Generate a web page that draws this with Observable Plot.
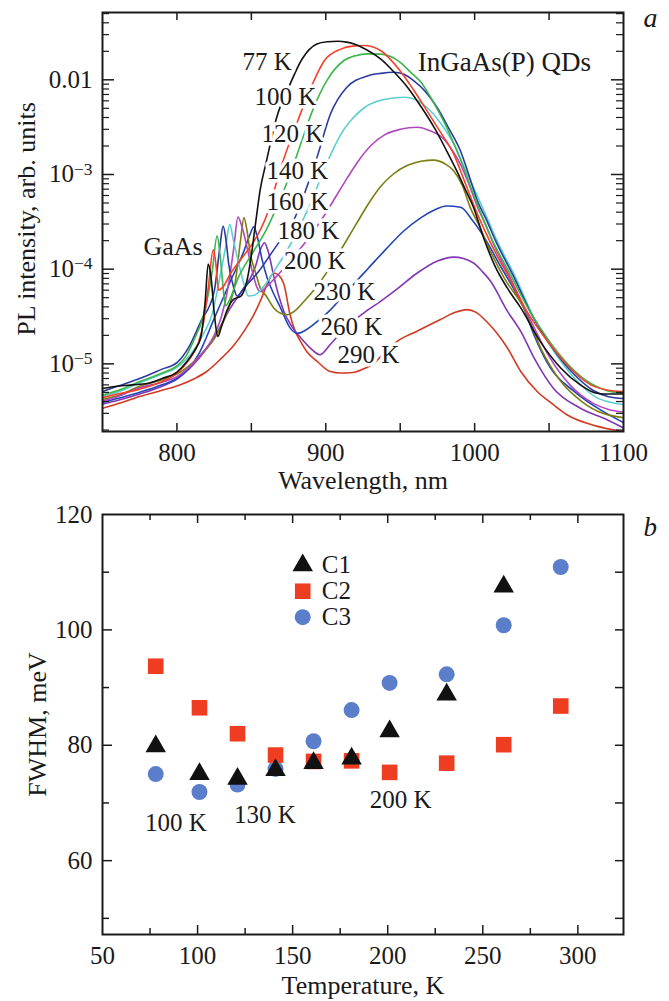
<!DOCTYPE html>
<html>
<head>
<meta charset="utf-8">
<script src="https://cdn.jsdelivr.net/npm/d3@7"></script>
<script src="https://cdn.jsdelivr.net/npm/@observablehq/plot@0.6"></script>
<style>
  body { margin: 0; background: #fff; }
  #chart { width: 669px; }
  #chart svg { display: block; }
</style>
</head>
<body>
<div id="chart"></div>
<script>
// ---------------- Panel a data: PL spectra (wavelength nm, intensity arb. units) ----------------
const temps = ["77 K", "100 K", "120 K", "140 K", "160 K", "180 K", "200 K", "230 K", "260 K", "290 K"];
const curveColors = ["#111111", "#f5402a", "#3db54a", "#2b3a9e", "#5ccfd0", "#b049bd", "#7d7d12", "#2344b5", "#8236b5", "#d23a22"];

const pl77 = [[750,5.5e-6],[760,5.8e-6],[770,6.0e-6],[780,6.2e-6],[790,7.0e-6],[800,8.2e-6],[807,1.07e-5],[812,1.4e-5],[816,1.9e-5],[819,4.6e-5],[821,1.13e-4],[823,8.0e-5],[825,3.5e-5],[827.5,1.95e-5],[830,2.5e-5],[834,3.8e-5],[838,4.8e-5],[843,5.2e-5],[847,7.5e-5],[850,1.4e-4],[853,3.2e-4],[856,7.0e-4],[860,1.35e-3],[867,4.0e-3],[876,9.0e-3],[884,1.65e-2],[894,2.39e-2],[901,2.52e-2],[908,2.55e-2],[914,2.5e-2],[919,2.39e-2],[928,2.05e-2],[937,1.65e-2],[946,1.2e-2],[955,8.3e-3],[964,5.2e-3],[973,3.1e-3],[981,1.8e-3],[988,1.09e-3],[994,6.8e-4],[999,4.6e-4],[1006,2.15e-4],[1014,1.05e-4],[1022,6.3e-5],[1031,3.9e-5],[1044,1.73e-5],[1058,9.0e-6],[1071,6.0e-6],[1082,4.9e-6],[1090,4.8e-6],[1100,4.8e-6]];
const pl100 = [[750,4.4e-6],[760,4.8e-6],[775,5.4e-6],[790,6.5e-6],[800,8.0e-6],[808,1.1e-5],[814,1.6e-5],[818,2.8e-5],[821,6.3e-5],[824.4,1.6e-4],[826,1.2e-4],[828,6.0e-5],[831,6.5e-5],[836,9.0e-5],[845,1.4e-4],[852,2.0e-4],[856,2.6e-4],[860,3.6e-4],[865,6.5e-4],[870,1.2e-3],[880,3.3e-3],[891,9.0e-3],[899,1.59e-2],[910,2.11e-2],[918,2.27e-2],[925.5,2.3e-2],[937,2.03e-2],[950,1.24e-2],[959,7.8e-3],[968,4.7e-3],[977,2.8e-3],[986,1.64e-3],[992,9.5e-4],[998,5.4e-4],[1004,3.2e-4],[1010,2.0e-4],[1016,1.3e-4],[1022,8.8e-5],[1035,3.6e-5],[1049,1.73e-5],[1062,9.8e-6],[1078,6.0e-6],[1089,5.3e-6],[1100,5.1e-6]];
const pl120 = [[750,4.7e-6],[760,5.2e-6],[775,6.5e-6],[790,8.0e-6],[800,9.5e-6],[806,1.2e-5],[811,1.73e-5],[818,3.3e-5],[823.7,9.5e-5],[827,2.25e-4],[829,1.4e-4],[831,6.5e-5],[832.6,4.1e-5],[836,5.0e-5],[841,8.0e-5],[851,1.5e-4],[860,2.6e-4],[867,4.5e-4],[876,1.0e-3],[884,2.3e-3],[891,4.7e-3],[901,1.0e-2],[912,1.59e-2],[920,1.8e-2],[928,1.88e-2],[937,1.87e-2],[944,1.75e-2],[950,1.53e-2],[957,1.2e-2],[964,9.4e-3],[971,6.3e-3],[979,3.7e-3],[990,1.5e-3],[1001,5.2e-4],[1012,2.0e-4],[1024,8.8e-5],[1037,3.6e-5],[1050,1.75e-5],[1063,9.8e-6],[1078,6.2e-6],[1089,5.2e-6],[1100,4.9e-6]];
const pl140 = [[750,5.1e-6],[760,5.8e-6],[775,7.0e-6],[790,8.8e-6],[800,1.03e-5],[808,1.5e-5],[816,2.8e-5],[825,5.8e-5],[828.8,1.68e-4],[831,2.85e-4],[833,2.0e-4],[834.8,1.13e-4],[838,6.5e-5],[840.5,5.2e-5],[845,6.3e-5],[855,9.5e-5],[865,1.6e-4],[872,2.3e-4],[878.5,3.3e-4],[886,6.5e-4],[894,1.5e-3],[903,4.3e-3],[914,8.3e-3],[928,1.1e-2],[937,1.17e-2],[945.7,1.2e-2],[952,1.15e-2],[959,9.8e-3],[967,7.5e-3],[974.8,5.1e-3],[983,3.0e-3],[990.5,1.77e-3],[996,1.0e-3],[1002,5.2e-4],[1008,3.3e-4],[1014,2.0e-4],[1026,8.5e-5],[1038,3.4e-5],[1052,1.5e-5],[1066,8.0e-6],[1080,5.2e-6],[1090,4.5e-6],[1100,4.3e-6]];
const pl160 = [[750,4.55e-6],[760,5.0e-6],[775,6.3e-6],[790,7.8e-6],[800,9.2e-6],[810,1.3e-5],[818,2.1e-5],[824,3.5e-5],[827,5.8e-5],[832.6,1.68e-4],[835.5,2.97e-4],[838,2.0e-4],[841.6,1.13e-4],[845,7.0e-5],[848,5.2e-5],[852,5.3e-5],[858,6.5e-5],[867,1.05e-4],[876,1.8e-4],[885,3.4e-4],[892,6.0e-4],[898,1.05e-3],[905,1.85e-3],[911,2.8e-3],[918,3.9e-3],[926,5.1e-3],[939,6.2e-3],[953.5,6.55e-3],[961,6.1e-3],[968,5.1e-3],[977,3.5e-3],[986,2.1e-3],[994,1.1e-3],[1003,5.4e-4],[1009,3.3e-4],[1015,2.0e-4],[1027,8.5e-5],[1040,3.0e-5],[1054,1.3e-5],[1068,6.8e-6],[1082,4.4e-6],[1092,3.9e-6],[1100,3.7e-6]];
const pl180 = [[750,4.05e-6],[760,4.5e-6],[775,5.6e-6],[790,6.4e-6],[800,7.3e-6],[815,1.2e-5],[825,2.0e-5],[830,3.2e-5],[833.8,5.8e-5],[838.2,1.68e-4],[841,3.55e-4],[844,2.7e-4],[847.2,1.68e-4],[851,9.0e-5],[854,6.3e-5],[856,5.8e-5],[860,6.5e-5],[870,9.5e-5],[880,1.45e-4],[890,2.3e-4],[900,3.9e-4],[908,6.3e-4],[915,9.5e-4],[922,1.4e-3],[930,2.0e-3],[940,2.65e-3],[950,3.0e-3],[961.4,3.15e-3],[970,2.9e-3],[977,2.55e-3],[984,1.9e-3],[990.5,1.28e-3],[996,8.0e-4],[1002,4.5e-4],[1008,2.8e-4],[1013,1.8e-4],[1025,7.5e-5],[1037,3.0e-5],[1050,1.2e-5],[1064,6.0e-6],[1080,3.8e-6],[1090,3.3e-6],[1100,3.1e-6]];
const pl200 = [[750,4.2e-6],[760,4.6e-6],[775,5.8e-6],[790,6.8e-6],[800,7.8e-6],[815,1.2e-5],[828,2.2e-5],[835,4.0e-5],[839.3,7.5e-5],[842.7,2.0e-4],[845,3.5e-4],[847,2.6e-4],[849.4,1.43e-4],[853,9.0e-5],[856,6.3e-5],[860,5.2e-5],[865,3.9e-5],[870,3.4e-5],[874,3.3e-5],[879,3.6e-5],[885,4.5e-5],[893,6.3e-5],[903,1.05e-4],[913,1.9e-4],[921,3.1e-4],[929,5.0e-4],[937,7.5e-4],[945,1.0e-3],[955,1.25e-3],[964,1.38e-3],[972.6,1.42e-3],[980,1.3e-3],[986,1.09e-3],[992,7.5e-4],[997,4.5e-4],[1003,2.9e-4],[1008,1.9e-4],[1020,8.0e-5],[1033,3.9e-5],[1045,1.4e-5],[1058,6.5e-6],[1072,4.0e-6],[1086,3.0e-6],[1100,2.7e-6]];
const pl230 = [[750,3.9e-6],[760,4.3e-6],[775,5.0e-6],[790,6.0e-6],[800,7.0e-6],[808,9.0e-6],[815,1.3e-5],[825,3.0e-5],[836,7.5e-5],[845,1.55e-4],[849,2.3e-4],[851.6,2.8e-4],[854,2.2e-4],[857,1.3e-4],[860.6,8.1e-5],[865,5.5e-5],[869.6,3.9e-5],[876,2.4e-5],[881,2.1e-5],[886,2.25e-5],[891,2.55e-5],[903,3.7e-5],[915,6.0e-5],[928,1.0e-4],[940,1.6e-4],[952,2.5e-4],[964,3.5e-4],[974,4.3e-4],[981,4.65e-4],[990.5,4.5e-4],[999,3.2e-4],[1008,1.98e-4],[1017,1.1e-4],[1026,6.3e-5],[1033,3.9e-5],[1040,2.0e-5],[1051,9.0e-6],[1067,5.1e-6],[1084,3.3e-6],[1100,2.4e-6]];
const pl260 = [[750,3.75e-6],[760,4.1e-6],[775,4.8e-6],[790,5.8e-6],[800,6.9e-6],[808,8.8e-6],[815,1.15e-5],[825,1.9e-5],[836,3.9e-5],[844,6.0e-5],[849.4,8.1e-5],[853,1.1e-4],[856,1.6e-4],[858.8,1.9e-4],[861,1.6e-4],[865,8.5e-5],[868,5.5e-5],[871.8,3.6e-5],[877,2.5e-5],[883,1.9e-5],[890,1.45e-5],[896,1.25e-5],[903,1.6e-5],[912,2.3e-5],[925,3.4e-5],[937,4.6e-5],[948,6.2e-5],[961,9.0e-5],[975,1.22e-4],[986,1.34e-4],[999,1.17e-4],[1005,9.5e-5],[1010.6,7.5e-5],[1022,3.6e-5],[1031,2.2e-5],[1040,1.15e-5],[1053,5.5e-6],[1071,3.4e-6],[1089,2.57e-6],[1100,2.1e-6]];
const pl290 = [[750,3.4e-6],[763,3.9e-6],[775.5,4.55e-6],[789,5.2e-6],[801,5.9e-6],[812,7.0e-6],[820,8.3e-6],[830,1.15e-5],[838,1.55e-5],[845,2.2e-5],[851.6,3.3e-5],[856,4.6e-5],[860.6,6.9e-5],[865,9.1e-5],[868.5,8.6e-5],[871.8,7.0e-5],[876,3.3e-5],[879,2.3e-5],[883,1.73e-5],[888,1.3e-5],[894,1.07e-5],[903,8.3e-6],[910,8.0e-6],[918,8.1e-6],[925,8.8e-6],[932,1.0e-5],[940,1.35e-5],[948,1.73e-5],[961,2.2e-5],[977,2.94e-5],[987,3.5e-5],[995,3.74e-5],[1001,3.5e-5],[1008,2.8e-5],[1015,2.1e-5],[1022,1.47e-5],[1031,8.3e-6],[1042,5.1e-6],[1052,3.8e-6],[1062,2.9e-6],[1082,2.2e-6],[1100,1.92e-6]];
const spectra = [pl77, pl100, pl120, pl140, pl160, pl180, pl200, pl230, pl260, pl290];

const wavelengthTicks = [800, 900, 1000, 1100];
const intensityTicks = [1e-5, 1e-4, 1e-3, 1e-2];

// ---------------- Panel b data: FWHM vs temperature ----------------
const temperatureK = [78, 101, 121, 141, 161, 181, 201, 231, 261, 291];
const fwhmC1 = [79.8, 75.0, 74.2, 75.7, 76.9, 77.7, 82.4, 88.8, 107.5, null];
const fwhmC2 = [93.7, 86.5, 82.0, 78.3, 77.2, 77.3, 75.3, 76.9, 80.1, 86.8];
const fwhmC3 = [75.0, 71.9, 73.2, 75.9, 80.7, 86.1, 90.8, 92.3, 100.8, 110.9];
const seriesNames = ["C1", "C2", "C3"];
const temperatureTicks = [50, 100, 150, 200, 250, 300];
const fwhmTicks = [60, 80, 100, 120];

// ---------------- Shared style ----------------
const FONT = "'Liberation Serif', 'Times New Roman', serif";
const INK = "#1a1a1a";

// ---------------- Panel a ----------------
function panelA() {
  const width = 669, height = 500, mL = 102, mR = 46, mT = 12, mB = 69;
  const iw = width - mL - mR, ih = height - mT - mB;
  const rows = spectra.map((s, i) => s.map(([nm, I]) => ({T: temps[i], nm, I}))).reverse().flat();
  const yDomain = [1.93e-6, 0.0514];
  const minor = [];
  for (let e = -6; e <= -2; e++) for (let k = 2; k <= 9; k++) {
    const v = k * Math.pow(10, e);
    if (v > yDomain[0] && v < yDomain[1]) minor.push(v);
  }
  const xTickAll = [800, 850, 900, 950, 1000, 1050];
  const tempLabels = [
    {label: temps[0], nm: 844.0, I: 1.53e-2},
    {label: temps[1], nm: 852.1, I: 6.55e-3},
    {label: temps[2], nm: 856.8, I: 2.69e-3},
    {label: temps[3], nm: 860.2, I: 1.10e-3},
    {label: temps[4], nm: 860.2, I: 5.18e-4},
    {label: temps[5], nm: 867.6, I: 2.53e-4},
    {label: temps[6], nm: 871.9, I: 1.21e-4},
    {label: temps[7], nm: 891.7, I: 5.74e-5},
    {label: temps[8], nm: 896.4, I: 2.48e-5},
    {label: temps[9], nm: 907.9, I: 1.24e-5}
  ];
  const svg = Plot.plot({
    width, height, marginLeft: mL, marginRight: mR, marginTop: mT, marginBottom: mB,
    style: {fontFamily: FONT, fontSize: "25px", color: INK, background: "white", overflow: "visible"},
    x: {domain: [750, 1100]},
    y: {type: "log", domain: yDomain},
    color: {domain: temps, range: curveColors},
    marks: [
      Plot.line(rows, {x: "nm", y: "I", z: "T", stroke: "T", strokeWidth: 1.6, curve: "monotone-x", clip: true}),
      Plot.text(tempLabels, {x: "nm", y: "I", text: "label", textAnchor: "start", lineAnchor: "middle", fill: INK, stroke: "white", strokeWidth: 7, fontSize: 25}),
      Plot.text(["GaAs"], {x: 777.5, y: 1.71e-4, textAnchor: "start", lineAnchor: "middle", fill: INK, fontSize: 26}),
      Plot.text(["InGaAs(P) QDs"], {x: 961.8, y: 1.52e-2, textAnchor: "start", lineAnchor: "middle", fill: INK, fontSize: 27}),
      Plot.text(["a"], {frameAnchor: "top-right", dx: 20, dy: 6, textAnchor: "start", lineAnchor: "middle", fontStyle: "italic", fontSize: 28, fill: INK}),
      // tick marks (inward)
      Plot.tickX(xTickAll, {x: d => d, insetTop: ih - 8, stroke: INK, strokeWidth: 1.5}),
      Plot.tickX(xTickAll, {x: d => d, insetBottom: ih - 8, stroke: INK, strokeWidth: 1.5}),
      Plot.tickY(intensityTicks, {y: d => d, insetRight: iw - 12, stroke: INK, strokeWidth: 1.5}),
      Plot.tickY(intensityTicks, {y: d => d, insetLeft: iw - 12, stroke: INK, strokeWidth: 1.5}),
      Plot.tickY(minor, {y: d => d, insetRight: iw - 7, stroke: INK, strokeWidth: 1.2}),
      Plot.tickY(minor, {y: d => d, insetLeft: iw - 7, stroke: INK, strokeWidth: 1.2}),
      Plot.axisX(wavelengthTicks, {tickSize: 0, tickPadding: 12, label: null, fontSize: 25, tickFormat: d => String(d)}),
      Plot.axisY(intensityTicks, {tickSize: 0, tickPadding: 10, label: null, fontSize: 25,
        tickFormat: d => d === 1e-2 ? "0.01" : "10^\u2212" + Math.round(-Math.log10(d))}),
      Plot.text(["Wavelength, nm"], {frameAnchor: "bottom", dy: 49, textAnchor: "middle", lineAnchor: "middle", fontSize: 26, fill: INK}),
      Plot.text(["PL intensity, arb. units"], {frameAnchor: "left", dx: -76, dy: -3, rotate: -90, textAnchor: "middle", lineAnchor: "middle", fontSize: 26, fill: INK}),
      Plot.frame({stroke: INK, strokeWidth: 2})
    ]
  });
  // superscript exponents
  const ns = "http://www.w3.org/2000/svg";
  svg.querySelectorAll('[aria-label="y-axis tick label"] text').forEach(t => {
    const s = t.textContent;
    if (s.includes("^")) {
      const [base, exp] = s.split("^");
      t.textContent = "";
      const b = document.createElementNS(ns, "tspan");
      b.textContent = base;
      const e = document.createElementNS(ns, "tspan");
      e.textContent = exp;
      e.setAttribute("font-size", "0.7em");
      e.setAttribute("dy", "-0.45em");
      t.append(b, e);
    }
  });
  return svg;
}

// ---------------- Panel b ----------------
function panelB() {
  const width = 669, height = 501, mL = 102, mR = 46, mT = 14, mB = 67;
  const iw = width - mL - mR, ih = height - mT - mB;
  const mk = vals => temperatureK.map((T, i) => ({T, v: vals[i]})).filter(d => d.v != null);
  const c1 = mk(fwhmC1), c2 = mk(fwhmC2), c3 = mk(fwhmC3);
  const xMajor = [100, 150, 200, 250, 300], xMinor = [75, 125, 175, 225, 275];
  const yMajor = [60, 80, 100], yMinor = [50, 70, 90, 110], yRight = [50, 60, 70, 80, 90, 100, 110];
  const legend = [
    {name: seriesNames[0], T: 155.3, v: 111.2},
    {name: seriesNames[1], T: 155.3, v: 106.7},
    {name: seriesNames[2], T: 155.3, v: 102.2}
  ];
  const notes = [
    {text: "100 K", T: 72.3, v: 66.5},
    {text: "130 K", T: 119.1, v: 67.9},
    {text: "200 K", T: 190.5, v: 70.6}
  ];
  return Plot.plot({
    width, height, marginLeft: mL, marginRight: mR, marginTop: mT, marginBottom: mB,
    style: {fontFamily: FONT, fontSize: "25px", color: INK, background: "white", overflow: "visible"},
    x: {domain: [50, 324]},
    y: {domain: [47.2, 120]},
    marks: [
      Plot.dot(c3, {x: "T", y: "v", r: 8, fill: "#5a7ec9"}),
      Plot.dot(c2, {x: "T", y: "v", symbol: "square", r: 8.8, fill: "#ef3d22"}),
      Plot.dot(c1, {x: "T", y: "v", symbol: "triangle", r: 7.6, fill: "#111111"}),
      Plot.dot([legend[0]], {x: "T", y: "v", symbol: "triangle", r: 7.6, fill: "#111111"}),
      Plot.dot([legend[1]], {x: "T", y: "v", symbol: "square", r: 8.8, fill: "#ef3d22"}),
      Plot.dot([legend[2]], {x: "T", y: "v", r: 8, fill: "#5a7ec9"}),
      Plot.text(legend, {x: "T", y: "v", text: "name", dx: 19, textAnchor: "start", lineAnchor: "middle", fill: INK, fontSize: 25}),
      Plot.text(notes, {x: "T", y: "v", text: "text", textAnchor: "start", lineAnchor: "middle", fill: INK, fontSize: 25}),
      Plot.text(["b"], {frameAnchor: "top-right", dx: 20, dy: 13, textAnchor: "start", lineAnchor: "middle", fontStyle: "italic", fontSize: 27, fill: INK}),
      Plot.tickX(xMajor, {x: d => d, insetTop: ih - 9, stroke: INK, strokeWidth: 1.5}),
      Plot.tickX(xMinor, {x: d => d, insetTop: ih - 6, stroke: INK, strokeWidth: 1.5}),
      Plot.tickX(xMajor, {x: d => d, insetBottom: ih - 9, stroke: INK, strokeWidth: 1.5}),
      Plot.tickX(xMinor, {x: d => d, insetBottom: ih - 6, stroke: INK, strokeWidth: 1.5}),
      Plot.tickY(yMajor, {y: d => d, insetRight: iw - 10, stroke: INK, strokeWidth: 1.5}),
      Plot.tickY(yMinor, {y: d => d, insetRight: iw - 7, stroke: INK, strokeWidth: 1.5}),
      Plot.tickY(yRight, {y: d => d, insetLeft: iw - 8, stroke: INK, strokeWidth: 1.5}),
      Plot.axisX(temperatureTicks, {tickSize: 0, tickPadding: 12, label: null, fontSize: 25, tickFormat: d => String(d)}),
      Plot.axisY(fwhmTicks, {tickSize: 0, tickPadding: 10, label: null, fontSize: 25, tickFormat: d => String(d)}),
      Plot.text(["Temperature, K"], {frameAnchor: "bottom", dy: 51, textAnchor: "middle", lineAnchor: "middle", fontSize: 26, fill: INK}),
      Plot.text(["FWHM, meV"], {frameAnchor: "left", dx: -65, rotate: -90, textAnchor: "middle", lineAnchor: "middle", fontSize: 26, fill: INK}),
      Plot.frame({stroke: INK, strokeWidth: 2})
    ]
  });
}

const chart = document.getElementById("chart");
chart.append(panelA(), panelB());
</script>
</body>
</html>
